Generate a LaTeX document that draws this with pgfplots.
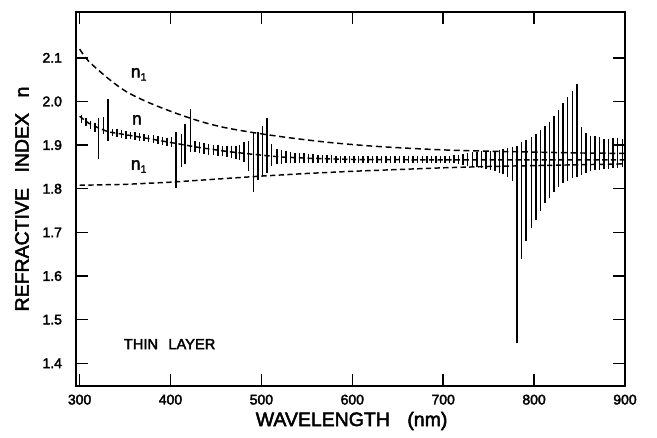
\documentclass[border=0pt]{standalone}
\usepackage{fontspec}
\setmainfont{Liberation Sans}[FakeBold=2.5]
\usepackage{pgfplots}
\usepackage{pgfplotstable}
\pgfplotsset{compat=1.18}

% vertical bars: x, lower end, upper end
\pgfplotstableread{
x lo hi
302 1.950 1.968
307 1.944 1.962
312 1.938 1.955
317 1.930 1.950
321 1.868 1.962
326 1.925 1.965
331 1.910 2.005
336 1.921 1.938
341 1.919 1.936
346 1.917 1.934
351 1.915 1.932
356 1.914 1.930
361 1.912 1.929
366 1.910 1.927
371 1.909 1.926
376 1.907 1.924
381 1.905 1.922
386 1.903 1.920
391 1.901 1.918
396 1.899 1.916
401 1.895 1.918
406 1.802 1.931
412 1.850 1.925
416 1.857 1.948
422 1.884 1.982
427 1.884 1.910
432 1.881 1.906
437 1.880 1.905
442 1.878 1.903
447 1.877 1.901
452 1.876 1.900
457 1.874 1.899
462 1.873 1.898
467 1.871 1.897
472 1.869 1.898
476 1.866 1.900
481 1.861 1.907
486 1.840 1.910
491 1.793 1.930
496 1.820 1.930
501 1.829 1.944
506 1.837 1.962
511 1.852 1.902
517 1.856 1.890
522 1.857 1.888
527 1.858 1.886
532 1.858 1.884
537 1.859 1.883
542 1.859 1.882
547 1.860 1.881
552 1.860 1.880
557 1.860 1.879
562 1.860 1.878
567 1.860 1.878
572 1.860 1.877
577 1.860 1.877
582 1.860 1.876
587 1.860 1.876
592 1.860 1.876
597 1.860 1.876
602 1.860 1.876
607 1.860 1.876
612 1.860 1.876
617 1.860 1.876
622 1.860 1.876
627 1.860 1.876
632 1.860 1.876
637 1.860 1.876
642 1.860 1.876
647 1.860 1.876
652 1.860 1.876
657 1.860 1.876
662 1.860 1.876
667 1.860 1.876
672 1.860 1.876
677 1.860 1.876
682 1.860 1.876
687 1.860 1.876
692 1.860 1.876
697 1.860 1.876
702 1.860 1.876
707 1.859 1.876
712 1.859 1.877
717 1.857 1.878
722 1.855 1.880
727 1.853 1.882
732 1.851 1.884
737 1.849 1.885
742 1.847 1.886
747 1.845 1.887
752 1.843 1.887
757 1.840 1.887
762 1.836 1.889
766 1.833 1.890
771 1.828 1.893
776 1.818 1.896
781 1.446 1.899
786 1.639 1.906
791 1.680 1.912
797 1.711 1.918
802 1.729 1.925
807 1.750 1.935
812 1.767 1.944
817 1.778 1.952
822 1.793 1.967
827 1.805 1.981
832 1.814 1.997
837 1.818 2.011
842 1.825 2.025
847 1.828 2.040
852 1.832 1.941
857 1.837 1.927
862 1.840 1.921
867 1.842 1.920
872 1.844 1.918
877 1.845 1.914
882 1.846 1.914
887 1.847 1.917
892 1.848 1.917
897 1.849 1.915
}\bars

\pgfplotstableread{
x n
300 1.966
310 1.950
320 1.940
332 1.930
350 1.924
370 1.917
400 1.906
430 1.895
460 1.886
490 1.879
520 1.873
550 1.870
600 1.867
700 1.866
800 1.866
900 1.866
}\nmid

\pgfplotstableread{
x n
300 2.120
310 2.092
333 2.050
351 2.023
370 2.003
387 1.988
410 1.970
435 1.953
460 1.940
493 1.928
530 1.917
575 1.906
620 1.898
660 1.893
700 1.889
750 1.886
800 1.884
850 1.882
900 1.881
}\nup

\pgfplotstableread{
x n
300 1.808
350 1.810
400 1.815
450 1.822
500 1.829
550 1.835
600 1.840
650 1.844
700 1.848
750 1.851
800 1.853
850 1.855
900 1.857
}\nlow

\begin{document}
\begin{tikzpicture}
\begin{axis}[
  scale only axis,
  width=411.75pt, height=280.5pt,
  xmin=296, xmax=900, ymin=1.348, ymax=2.205,
  xtick={300,400,500,600,700,800,900},
  ytick={1.4,1.5,1.6,1.7,1.8,1.9,2.0,2.1},
  tick align=inside,
  major tick length=9pt,
  axis line style={line width=1.1pt},
  tick style={line width=1.1pt, black},
  /pgf/number format/assume math mode=true,
  ticklabel style={font=\fontsize{10.5}{12}\selectfont},
  yticklabel style={xshift=-7pt, /pgf/number format/.cd, fixed, fixed zerofill, precision=1},
  xticklabel style={yshift=-3pt, /pgf/number format/.cd, fixed, precision=0},
  xlabel={WAVELENGTH\hspace{0.9em}(nm)},
  ylabel={REFRACTIVE\hspace{0.8em}INDEX\hspace{0.8em}n},
  label style={font=\fontsize{14.6}{17}\selectfont},
  xlabel style={at={(axis description cs:0.502,-0.0936)}, anchor=center},
  ylabel style={at={(axis description cs:-0.0984,0.5)}, anchor=center},
  clip=false
]
\coordinate (O) at (rel axis cs:0,0);
\addplot[draw=none, no markers, line width=1.1pt,
  error bars/.cd, y dir=plus, y explicit,
  error mark=none, error bar style={draw=black, line width=1.1pt}]
  table[x=x, y=lo, y error plus expr={\thisrow{hi}-\thisrow{lo}}] {\bars};
\addplot[black, line width=1.1pt, dash pattern=on 4pt off 2.5pt] table[x=x,y=n] {\nmid};
\addplot[black, line width=1.1pt, dash pattern=on 4.5pt off 2.8pt, smooth] table[x=x,y=n] {\nup};
\addplot[black, line width=1.1pt, dash pattern=on 4pt off 2.5pt] table[x=x,y=n] {\nlow};
\node[font=\fontsize{13}{15}\selectfont] at (axis cs:365,2.062) {n\raisebox{-0.35ex}{\fontsize{8}{9}\selectfont 1}};
\node[font=\fontsize{13}{15}\selectfont] at (axis cs:363,1.958) {n};
\node[font=\fontsize{13}{15}\selectfont] at (axis cs:365,1.851) {n\raisebox{-0.35ex}{\fontsize{8}{9}\selectfont 1}};
\node[font=\fontsize{11}{13}\selectfont] at (axis cs:399,1.444) {THIN\hspace{0.7em}LAYER};
\end{axis}
\pgfresetboundingbox
\path (O) ++(-57pt,-39pt) rectangle ++(492.75pt,328.5pt);
\end{tikzpicture}
\end{document}
